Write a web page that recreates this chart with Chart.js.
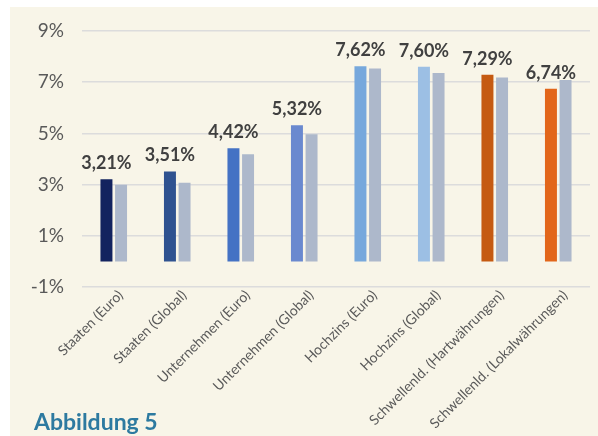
<!DOCTYPE html>
<html>
<head>
<meta charset="utf-8">
<script src="https://cdn.jsdelivr.net/npm/chart.js@4"></script>
<style>
    html, body { margin: 0; padding: 0; background: #fff; }
    .panel {
        position: absolute; left: 10px; top: 7px;
        width: 588px; height: 429px;
        background: #f8f5e8;
    }
    .panel canvas { position: absolute; left: 0; top: 0; }
    .caption {
        position: absolute; left: 24px; top: 400px;
        font: bold 23px Lato, sans-serif;
        color: #2d7aa0;
    }
</style>
</head>
<body>
<div class="panel">
    <canvas id="yieldChart" width="588" height="429"></canvas>
    <div class="caption">Abbildung 5</div>
</div>
<script>
// categories and series
const categories = [
    'Staaten (Euro)', 'Staaten (Global)', 'Unternehmen (Euro)', 'Unternehmen (Global)',
    'Hochzins (Euro)', 'Hochzins (Global)', 'Schwellenld. (Hartwährungen)', 'Schwellenld. (Lokalwährungen)'
];
const currentYield = [3.21, 3.51, 4.42, 5.32, 7.62, 7.60, 7.29, 6.74];
const previousYield = [2.99, 3.07, 4.19, 4.97, 7.54, 7.36, 7.18, 7.09];
const barColors = ['#13235f', '#2f5290', '#4472c4', '#6a89cf', '#77a8dc', '#9cbfe4', '#c55a11', '#e2661a'];
const yTicks = [-1, 1, 3, 5, 7, 9];

const fontFamily = 'Lato, sans-serif';

// draws the value labels above the first series
const valueLabels = {
    id: 'valueLabels',
    afterDatasetsDraw(chart) {
        const ctx = chart.ctx;
        const meta = chart.getDatasetMeta(0);
        ctx.save();
        ctx.font = 'bold 18px ' + fontFamily;
        ctx.fillStyle = '#404040';
        ctx.textAlign = 'center';
        ctx.textBaseline = 'bottom';
        meta.data.forEach((bar, i) => {
            const text = currentYield[i].toFixed(2).replace('.', ',') + '%';
            ctx.fillText(text, bar.x, bar.y - 7);
        });
        ctx.restore();
    }
};

const ctx = document.getElementById('yieldChart').getContext('2d');
new Chart(ctx, {
    type: 'bar',
    data: {
        labels: categories,
        datasets: [
            {
                data: currentYield,
                backgroundColor: barColors,
                categoryPercentage: 0.46,
                barPercentage: 0.82
            },
            {
                data: previousYield,
                backgroundColor: '#adb8cb',
                categoryPercentage: 0.46,
                barPercentage: 0.82
            }
        ]
    },
    options: {
        responsive: false,
        animation: false,
        layout: { padding: { left: 0, right: 8, top: 24, bottom: 0 } },
        plugins: {
            legend: { display: false },
            tooltip: { enabled: false }
        },
        scales: {
            x: {
                grid: { display: false },
                border: { display: false },
                ticks: {
                    color: '#595959',
                    font: { family: fontFamily, size: 14 },
                    minRotation: 45,
                    maxRotation: 45,
                    padding: -8,
                    labelOffset: 7,
                    autoSkip: false
                },
                afterFit(scale) { scale.height = 149; }
            },
            y: {
                min: -1,
                max: 9,
                afterBuildTicks(scale) {
                    scale.ticks = yTicks.map(v => ({ value: v }));
                },
                grid: {
                    color: '#dcdcdc',
                    lineWidth: 1.5,
                    drawTicks: true,
                    tickLength: 15,
                    tickColor: 'rgba(0,0,0,0)'
                },
                border: { display: false },
                ticks: {
                    color: '#595959',
                    font: { family: fontFamily, size: 19 },
                    padding: 3,
                    callback: v => v + '%'
                },
                afterFit(scale) { scale.width = 72; }
            }
        }
    },
    plugins: [valueLabels]
});
</script>
</body>
</html>
